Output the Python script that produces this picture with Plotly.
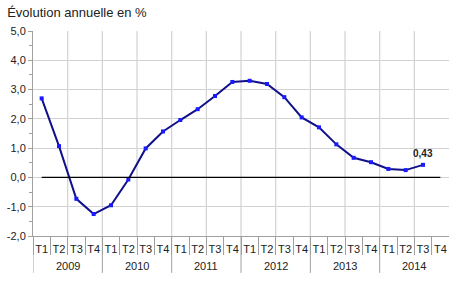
import plotly.graph_objects as go

years = ["2009", "2010", "2011", "2012", "2013", "2014"]
quarters = ["T1", "T2", "T3", "T4"]
values = [2.70, 1.07, -0.73, -1.25,
          -0.95, -0.07, 0.99, 1.57,
          1.96, 2.33, 2.78, 3.26,
          3.30, 3.19, 2.74, 2.05,
          1.71, 1.13, 0.67, 0.52,
          0.29, 0.25, 0.43, None]
last_label = "0,43"
title_text = "Évolution annuelle en %"
y_ticks = [-2, -1, 0, 1, 2, 3, 4, 5]
y_ticktext = ["-2,0", "-1,0", "0,0", "1,0", "2,0", "3,0", "4,0", "5,0"]

n = len(years) * len(quarters)
xs = list(range(n))
qlabels = [q for _ in years for q in quarters]

FONT = "Arial, 'Liberation Sans', sans-serif"
GRID = "#d2d2d2"
TXT = "#222222"

fig = go.Figure()
fig.add_trace(go.Scatter(
    x=xs, y=values, mode="lines+markers",
    line=dict(color="#10108a", width=2),
    marker=dict(symbol="square", size=4, color="#1a1aff"),
    hoverinfo="skip", showlegend=False,
))

shapes = []
for k in range(1, n // 2):
    xv = -0.5 + 2 * k
    shapes.append(dict(type="line", xref="x", yref="y", x0=xv, x1=xv, y0=-2, y1=5,
                       line=dict(color=GRID, width=1.2), layer="below"))
shapes.append(dict(type="line", xref="x", yref="y", x0=0, x1=n - 1, y0=0, y1=0,
                   line=dict(color="#000000", width=1.2), layer="above"))
for k in range(len(years)):
    xv = -0.5 + 4 * k
    shapes.append(dict(type="line", xref="x", yref="paper", x0=xv, x1=xv, y0=0, y1=-0.18,
                       line=dict(color="#a0a0a0", width=1)))

annotations = []
for i, yr in enumerate(years):
    annotations.append(dict(x=1.5 + 4 * i, y=-0.148, xref="x", yref="paper",
                            text=yr, showarrow=False, xanchor="center", yanchor="middle",
                            font=dict(family=FONT, size=11, color=TXT)))
annotations.append(dict(x=22, y=0.43, xref="x", yref="y", text="<b>" + last_label + "</b>",
                        showarrow=False, yshift=11, xanchor="center", yanchor="middle",
                        font=dict(family=FONT, size=10, color=TXT)))

fig.update_layout(
    width=450, height=291,
    margin=dict(l=33, r=1, t=31, b=55, autoexpand=False),
    paper_bgcolor="white", plot_bgcolor="white",
    title=dict(text=title_text, x=0.016, xanchor="left", xref="container",
               y=0.956, yref="container", yanchor="middle",
               font=dict(family=FONT, size=13, color=TXT)),
    shapes=shapes, annotations=annotations,
    font=dict(family=FONT, size=11, color=TXT),
    xaxis=dict(
        range=[-0.5, n - 0.5], tickmode="array", tickvals=xs, ticktext=qlabels,
        ticks="outside", ticklen=3, tickcolor="rgba(0,0,0,0)",
        showgrid=False, zeroline=False, automargin=False,
        showline=True, linecolor="#a0a0a0", linewidth=1,
        tickfont=dict(family=FONT, size=11, color=TXT),
        minor=dict(tickmode="array", tickvals=[x - 0.5 for x in range(n)],
                   ticks="outside", ticklen=18, tickcolor="#a0a0a0", showgrid=False),
    ),
    yaxis=dict(
        range=[-2, 5], tickmode="array", tickvals=y_ticks, ticktext=y_ticktext,
        ticks="outside", ticklen=4, tickcolor="#a0a0a0",
        showgrid=True, gridcolor=GRID, gridwidth=1.2, automargin=False,
        zeroline=False, showline=True, linecolor="#a0a0a0", linewidth=1,
        tickfont=dict(family=FONT, size=11, color=TXT),
        minor=dict(tickmode="array", tickvals=[v + 0.5 for v in y_ticks[:-1]],
                   ticks="outside", ticklen=3, tickcolor="#a0a0a0", showgrid=False),
    ),
)

fig.write_html("out.html")
